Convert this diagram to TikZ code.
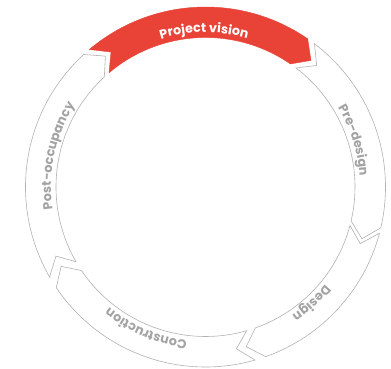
\documentclass[tikz,border=0pt]{standalone}
\usepackage{fontspec}
\setmainfont{Poppins}
\usetikzlibrary{decorations.text}
\definecolor{vred}{HTML}{E94237}
\definecolor{lgrey}{HTML}{B2B2B2}
\definecolor{tgrey}{HTML}{A3A3A3}
\tikzset{
  redseg/.style={fill=vred, draw=vred, line width=0.4pt},
  greyseg/.style={fill=white, draw=lgrey, line width=0.6pt, line join=miter},
}
% #1 style, #2 tail angle, #3 head angle (clockwise)
\newcommand\arcseg[3]{%
  \path[#1] (#2:180) arc[start angle=#2, end angle=#3, radius=180]
    -- ({#3-5.2}:164.75) -- (#3:149.5)
    arc[start angle=#3, end angle=#2, radius=149.5]
    -- ({#2-5.2}:164.75) -- cycle;}
% #1 colour, #2 centre angle, #3 text
\newcommand\arclabel[3]{%
  \path[decorate, decoration={text along path, text color=#1, text align=center,
      text={|\fontsize{12.7pt}{14pt}\selectfont\bfseries|#3}}]
    ({#2+55}:154.5) arc[start angle={#2+55}, end angle={#2-55}, radius=154.5];}
\begin{document}
\begin{tikzpicture}[x=1pt,y=1pt]
\useasboundingbox (0,0) rectangle (391,369);
\begin{scope}[shift={(205.5,182)}]
  \arcseg{redseg}{130.2}{55.4}
  \arcseg{greyseg}{52.75}{-13.1}
  \arcseg{greyseg}{-14.9}{-70.5}
  \arcseg{greyseg}{-74}{-146}
  \arcseg{greyseg}{210}{132.6}
  \arclabel{white}{90.5}{Project vision}
  \arclabel{tgrey}{17.5}{Pre-design}
  \arclabel{tgrey}{-47.6}{Design}
  \arclabel{tgrey}{-112.7}{Construction}
  \arclabel{tgrey}{168}{Post-occupancy}
\end{scope}
\end{tikzpicture}
\end{document}
